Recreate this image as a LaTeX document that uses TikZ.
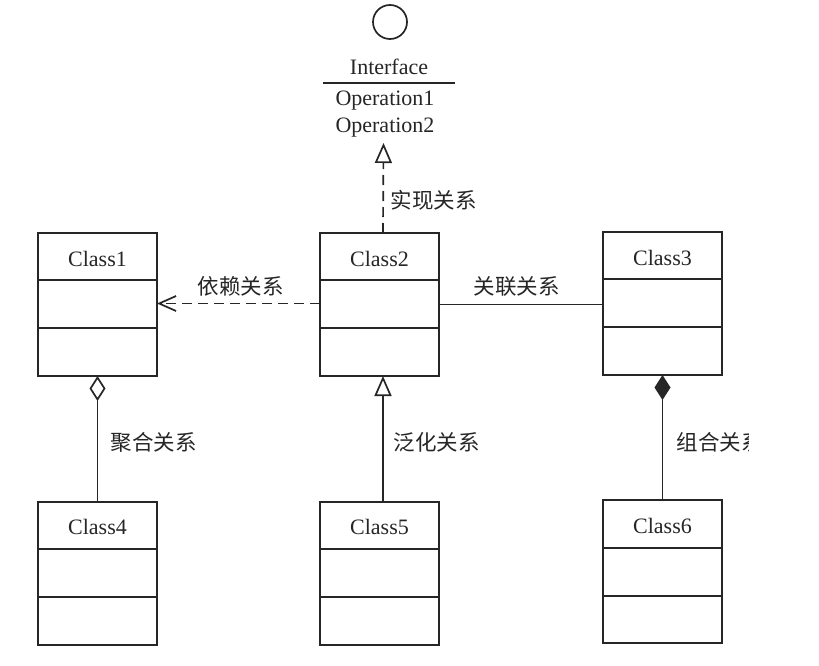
\documentclass[tikz,border=0pt]{standalone}
\usepackage{fontspec}
\setmainfont{Liberation Serif}
\newfontfamily\cjk{Noto Sans CJK SC}
\usetikzlibrary{arrows.meta}
\definecolor{ink}{HTML}{262626}
\begin{document}
\begin{tikzpicture}[x=1pt,y=-1pt,line width=1.7pt,draw=ink,
  classbox/.style={draw=ink,rectangle,inner sep=0pt,outer sep=0pt,anchor=north west,minimum width=119pt,minimum height=143pt},
  cname/.style={font=\fontsize{22}{24}\selectfont,text=ink,anchor=base,inner sep=0pt},
  rel/.style={font=\cjk\fontsize{21.5}{24}\selectfont,text=ink,anchor=west,inner sep=0pt},
  dash line/.style={dash pattern=on 10pt off 6pt},
  opentri/.style={-{Triangle[open,fill=white,length=20pt,width=17pt]}},
  opendia/.style={-{Diamond[open,fill=white,length=25pt,width=16pt]}},
  filldia/.style={-{Diamond[fill=ink,length=25pt,width=16pt]}},
  barb/.style={-{Straight Barb[length=17pt,width=15pt]}}]
\useasboundingbox[fill=white] (0,0) rectangle (819,666);

% interface
\node[draw=ink,circle,minimum size=34pt,inner sep=0pt] (ic) at (390,22) {};
\node[cname] (iname) at (389,75) {Interface};
\coordinate (ul) at (323,83);
\coordinate (ur) at (455,83);
\draw (ul) -- (ur);
\node[cname] (op1) at (385,106) {Operation1};
\node[cname] (op2) at (385,132) {Operation2};
\coordinate (itip) at (383.5,143);

% classes
\node[classbox] (c1) at (38,233) {};
\node[classbox] (c2) at (320,233) {};
\node[classbox] (c3) at (603,232) {};
\node[classbox] (c4) at (38,502) {};
\node[classbox] (c5) at (320,502) {};
\node[classbox] (c6) at (603,500) {};
\foreach \c in {c1,c2,c3,c4,c5} {
  \draw (\c.north west) ++(0,47) -- ++(119,0);
  \draw (\c.north west) ++(0,95) -- ++(119,0);
}
\draw (c6.north west) ++(0,48) -- ++(119,0);
\draw (c6.north west) ++(0,96) -- ++(119,0);
\node[cname] (n1) at ([yshift=-33pt]c1.north) {Class1};
\node[cname] (n2) at ([yshift=-33pt]c2.north) {Class2};
\node[cname] (n3) at ([yshift=-33pt]c3.north) {Class3};
\node[cname] (n4) at ([yshift=-32pt]c4.north) {Class4};
\node[cname] (n5) at ([yshift=-32pt]c5.north) {Class5};
\node[cname] (n6) at ([yshift=-33pt]c6.north) {Class6};

% connectors
\draw[dash line,opentri] ([xshift=3.5pt]c2.north) -- (itip);
\draw[dash line,barb] ([yshift=1pt]c2.west) -- ([yshift=1pt]c1.east);
\draw (c2.east) -- (c2.east -| c3.west);
\draw[opendia] (c4.north) -- (c1.south);
\draw[opentri] ([xshift=3.5pt]c5.north) -- ([xshift=3.5pt]c2.south);
\draw[filldia] (c6.north) -- (c3.south);

% labels
\node[rel] (l1) at (390,200) {实现关系};
\node[rel] (l2) at (197,286) {依赖关系};
\node[rel] (l3) at (473,286) {关联关系};
\node[rel] (l4) at (110,442) {聚合关系};
\node[rel] (l5) at (393,442) {泛化关系};
\begin{scope}
\clip (0,0) rectangle (748,666);
\node[rel] (l6) at (676,442) {组合关系};
\end{scope}
\end{tikzpicture}
\end{document}
